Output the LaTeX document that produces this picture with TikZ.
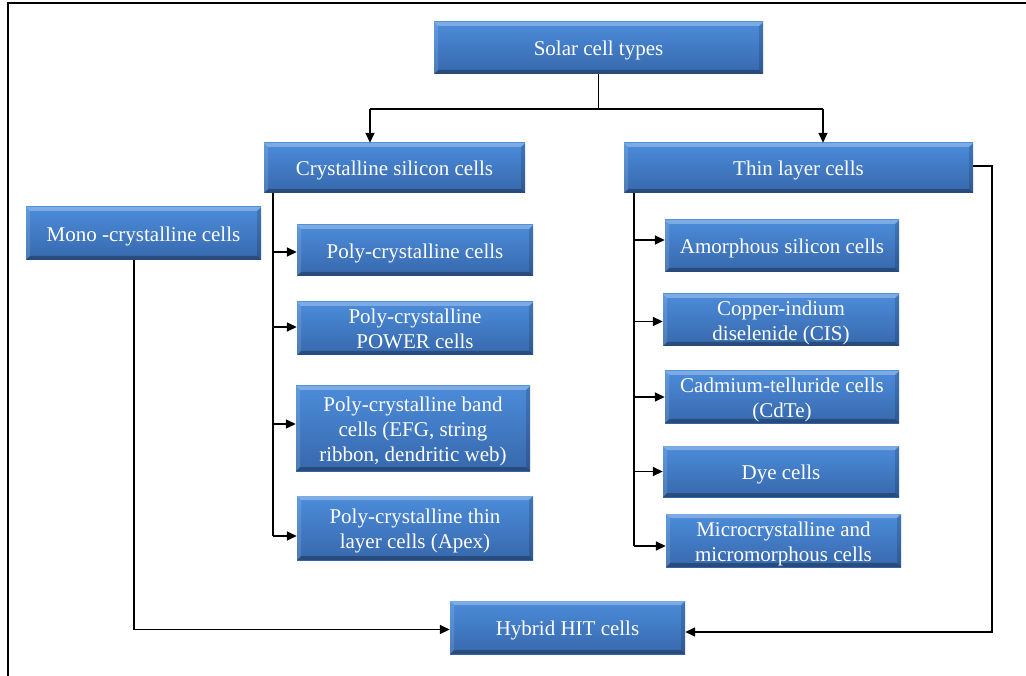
\documentclass[tikz,border=0pt]{standalone}
\usepackage{fontspec}
\setmainfont{Liberation Serif}
\usetikzlibrary{arrows.meta}
\definecolor{boxtop}{HTML}{4C8CDA}
\definecolor{boxbot}{HTML}{3768AC}
\newcommand{\lbl}[1]{\raisebox{-3pt}[\height][\depth]{\begin{tabular}{@{}c@{}}#1\end{tabular}}}
\tikzset{
  cellbox/.style={rectangle, inner sep=0pt, top color=boxtop, bottom color=boxbot,
    draw=none, text=white, align=center, font=\fontsize{21}{25}\selectfont,
    path picture={
      \fill[white,opacity=.28] (path picture bounding box.north west) -- (path picture bounding box.north east)
        -- ([shift={(-4pt,-4pt)}]path picture bounding box.north east) -- ([shift={(4pt,-4pt)}]path picture bounding box.north west) -- cycle;
      \fill[black,opacity=.28] (path picture bounding box.south west) -- (path picture bounding box.south east)
        -- ([shift={(-4pt,4pt)}]path picture bounding box.south east) -- ([shift={(4pt,4pt)}]path picture bounding box.south west) -- cycle;
      \fill[white,opacity=.12] (path picture bounding box.north west) -- ([shift={(4pt,-4pt)}]path picture bounding box.north west)
        -- ([shift={(4pt,4pt)}]path picture bounding box.south west) -- (path picture bounding box.south west) -- cycle;
      \fill[black,opacity=.15] (path picture bounding box.north east) -- ([shift={(-4pt,-4pt)}]path picture bounding box.north east)
        -- ([shift={(-4pt,4pt)}]path picture bounding box.south east) -- (path picture bounding box.south east) -- cycle;
    }},
  conn/.style={line width=1.6pt, black},
  arr/.style={conn, -{Triangle[length=10pt,width=9pt]}},
  frameline/.style={line width=2pt, black}
}
\begin{document}
\begin{tikzpicture}[x=1pt,y=-1pt]
\useasboundingbox (0,0) rectangle (1026,676);
\draw[frameline] (8,676) -- (8,3) -- (1026,3);

\node[cellbox, minimum width=329pt, minimum height=52pt] (solar) at (598.5,48) {\lbl{Solar cell types}};
\node[cellbox, minimum width=261pt, minimum height=50pt] (cryst) at (394.5,168) {\lbl{Crystalline silicon cells}};
\node[cellbox, minimum width=349pt, minimum height=50pt] (thin) at (798.5,168) {\lbl{Thin layer cells}};
\node[cellbox, minimum width=235pt, minimum height=53pt] (mono) at (143.5,233.5) {\lbl{Mono -crystalline cells}};

\node[cellbox, minimum width=236pt, minimum height=51pt] (p1) at (415,250.5) {\lbl{Poly-crystalline cells}};
\node[cellbox, minimum width=236pt, minimum height=53pt] (p2) at (415,328.5) {\lbl{Poly-crystalline\\POWER cells}};
\node[cellbox, minimum width=234pt, minimum height=85pt] (p3) at (413,428.5) {\lbl{Poly-crystalline band\\cells (EFG, string\\ribbon, dendritic web)}};
\node[cellbox, minimum width=236pt, minimum height=64pt] (p4) at (415,528) {\lbl{Poly-crystalline thin\\layer cells (Apex)}};

\node[cellbox, minimum width=234pt, minimum height=52pt] (t1) at (782,246) {\lbl{Amorphous silicon cells}};
\node[cellbox, minimum width=236pt, minimum height=52pt] (t2) at (781,320) {\lbl{Copper-indium\\diselenide (CIS)}};
\node[cellbox, minimum width=234pt, minimum height=52pt] (t3) at (782,397) {\lbl{Cadmium-telluride cells\\(CdTe)}};
\node[cellbox, minimum width=236pt, minimum height=51pt] (t4) at (781,471.5) {\lbl{Dye cells}};
\node[cellbox, minimum width=235pt, minimum height=53pt] (t5) at (783.5,540.5) {\lbl{Microcrystalline and\\micromorphous cells}};

\node[cellbox, minimum width=235pt, minimum height=53pt] (hyb) at (567.5,627.5) {\lbl{Hybrid HIT cells}};

% top split
\coordinate (j) at (598.5,109);
\coordinate (jl) at (370,109);
\coordinate (jr) at (823,109);
\draw[conn] (solar.south) -- (j);
\draw[conn] (jl) -- (jr);
\draw[arr] (jl) -- (jl |- cryst.north);
\draw[arr] (jr) -- (jr |- thin.north);

% crystalline trunk
\coordinate (ct) at (273,536);
\draw[conn] (ct |- cryst.south) -- (ct);
\draw[arr] ([yshift=-1.5pt]p1.west -| ct) -- ([yshift=-1.5pt]p1.west);
\draw[arr] ([yshift=1.5pt]p2.west -| ct) -- ([yshift=1.5pt]p2.west);
\draw[arr] ([yshift=4.5pt]p3.west -| ct) -- ([yshift=4.5pt]p3.west);
\draw[arr] (ct) -- (ct -| p4.west);

% thin trunk
\coordinate (tt) at (634,546);
\draw[conn] (tt |- thin.south) -- (tt);
\draw[arr] ([yshift=6pt]t1.west -| tt) -- ([yshift=6pt]t1.west);
\draw[arr] ([yshift=-1.5pt]t2.west -| tt) -- ([yshift=-1.5pt]t2.west);
\draw[arr] (t3.west -| tt) -- (t3.west);
\draw[arr] (t4.west -| tt) -- (t4.west);
\draw[arr] (tt) -- (tt -| t5.west);

% to hybrid
\coordinate (mc) at (134,629.5);
\draw[arr] (mc |- mono.south) -- (mc) -- (mc -| hyb.west);
\coordinate (rc) at (992,166);
\coordinate (rb) at (992,632);
\draw[arr] (rc -| thin.east) -- (rc) -- (rb) -- (rb -| hyb.east);
\end{tikzpicture}
\end{document}
